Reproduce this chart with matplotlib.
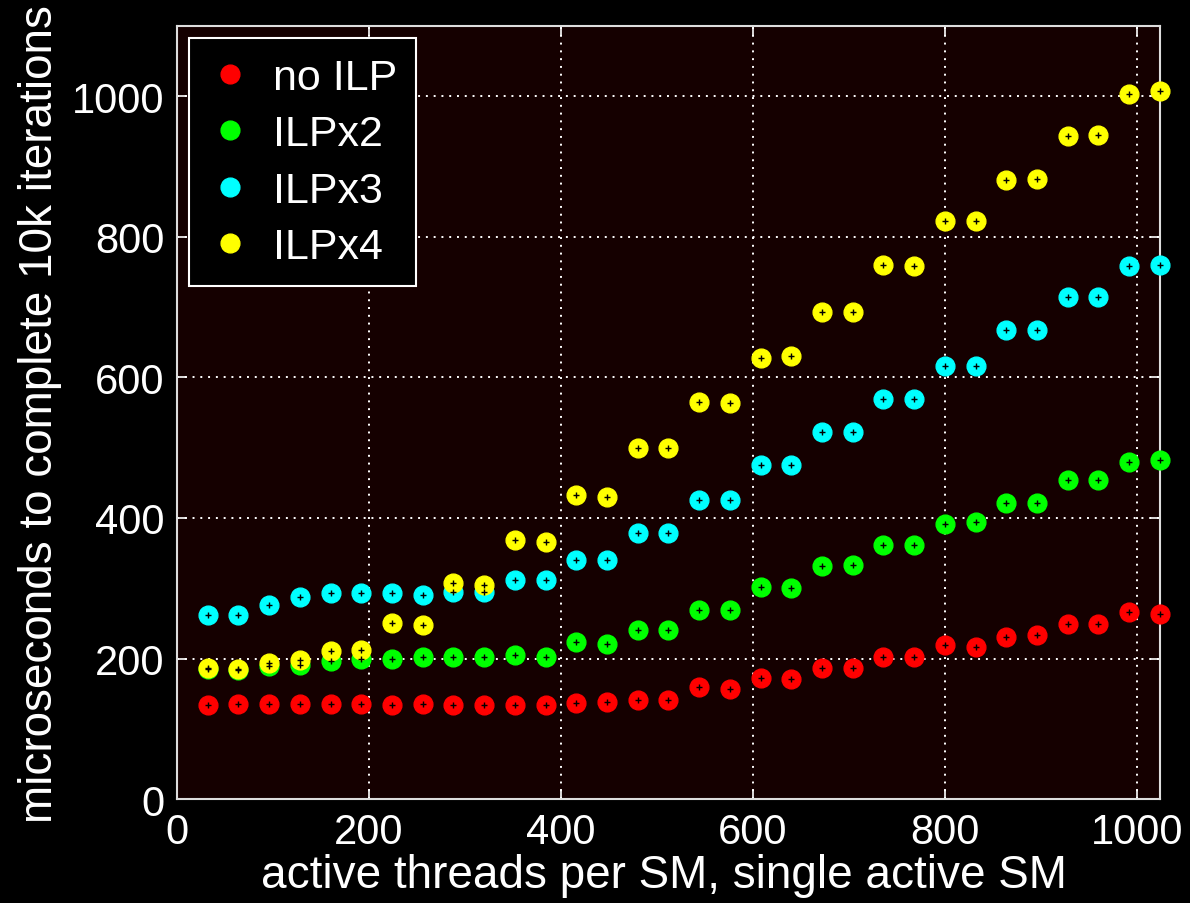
import matplotlib

matplotlib.use("Agg")
import matplotlib.pyplot as plt

## Data
threads = [32 * i for i in range(1, 33)]

no_ilp = [134, 135, 135, 135, 135, 135, 134, 135, 134, 134, 134, 134,
          136, 138, 141, 141, 160, 157, 172, 171, 186, 186, 202, 202,
          219, 216, 231, 233, 249, 249, 266, 264]
ilp_x2 = [185, 183, 190, 191, 197, 199, 200, 202, 202, 202, 205, 202,
          224, 221, 240, 240, 269, 269, 302, 300, 331, 333, 361, 361,
          392, 394, 422, 422, 454, 454, 480, 482]
ilp_x3 = [262, 262, 276, 288, 293, 293, 293, 290, 294, 294, 312, 312,
          340, 340, 378, 378, 425, 425, 475, 475, 523, 523, 570, 570,
          617, 617, 668, 668, 715, 715, 758, 760]
ilp_x4 = [186, 185, 193, 198, 210, 212, 250, 248, 307, 305, 368, 366,
          432, 430, 499, 499, 565, 563, 627, 631, 693, 693, 760, 758,
          822, 822, 881, 883, 943, 945, 1004, 1007]

series_names = ["no ILP", "ILPx2", "ILPx3", "ILPx4"]
series_values = [no_ilp, ilp_x2, ilp_x3, ilp_x4]
series_colors = ["#ff0000", "#00ff00", "#00ffff", "#ffff00"]

x_ticks = [0, 200, 400, 600, 800, 1000]
y_ticks = [0, 200, 400, 600, 800, 1000]

plt.rcParams["font.family"] = ["Liberation Sans", "DejaVu Sans"]

fig = plt.figure(figsize=(11.9, 9.04), dpi=100, facecolor="black")
ax = fig.add_axes([0.1487, 0.115, 0.826, 0.855], facecolor="#150000")

for name, vals, col in zip(series_names, series_values, series_colors):
    ax.plot(threads, vals, linestyle="none", marker="o", markersize=13.5,
            markerfacecolor=col, markeredgecolor=col, markeredgewidth=1,
            label=name, clip_on=False, zorder=3)
    ax.plot(threads, vals, linestyle="none", marker="+", markersize=5,
            markeredgecolor="black", markeredgewidth=1, clip_on=False,
            zorder=4)

ax.set_xlim(0, 1024)
ax.set_ylim(0, 1100)
ax.set_xticks(x_ticks)
ax.set_yticks(y_ticks)

ax.grid(True, color="white", linestyle=(0, (1, 3)), linewidth=1.4)
for sp in ax.spines.values():
    sp.set_color("#dddddd")
    sp.set_linewidth(1.5)
ax.tick_params(direction="in", length=7, width=1.2, colors="white",
               labelsize=30, top=True, right=True, pad=9)

ax.set_xlabel("active threads per SM, single active SM", color="white",
              fontsize=33)
ax.set_ylabel("microseconds to complete 10k iterations", color="white",
              fontsize=33)
ax.xaxis.set_label_coords(0.4955, -0.070)
ax.yaxis.set_label_coords(-0.117, 0.5)

leg = ax.legend(loc="upper left", bbox_to_anchor=(0.012, 0.984),
                borderaxespad=0, fontsize=31, frameon=True, fancybox=False,
                facecolor="black", edgecolor="white", framealpha=1,
                handlelength=1.0, handletextpad=0.5, labelspacing=0.38,
                borderpad=0.45, numpoints=1)
leg.get_frame().set_linewidth(1.5)
for t in leg.get_texts():
    t.set_color("white")

fig.savefig("out.png", dpi=100, facecolor="black")
